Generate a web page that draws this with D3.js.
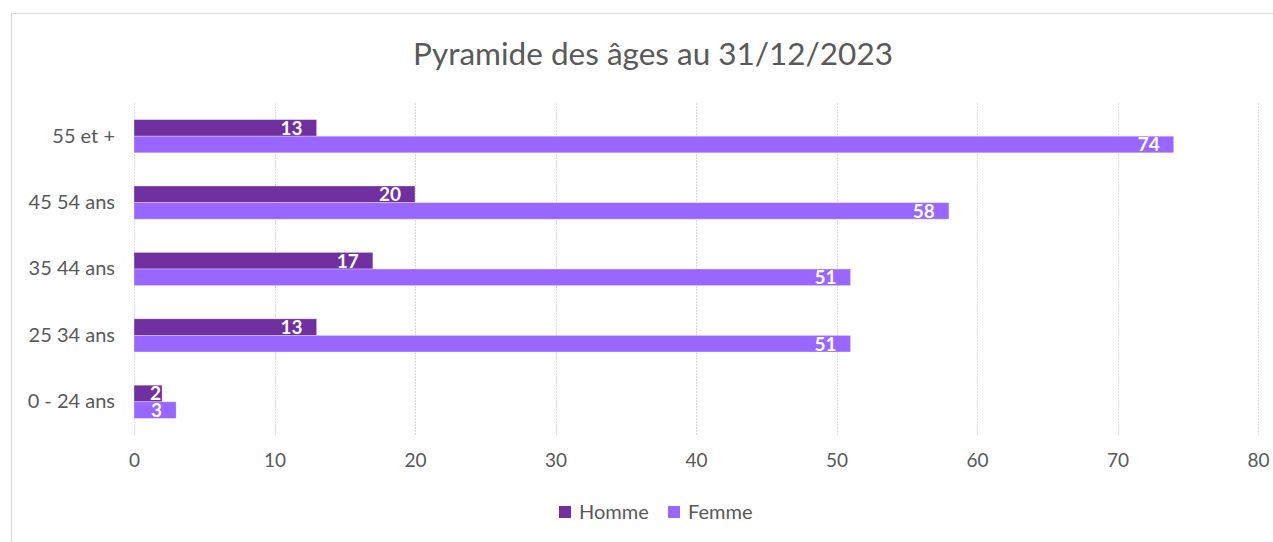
<!DOCTYPE html>
<html>
<head>
<meta charset="utf-8">
<script src="https://cdn.jsdelivr.net/npm/d3@7"></script>
<style>
  body { margin: 0; background: #fff; }
  svg { display: block; font-family: Lato, "Open Sans", sans-serif; }
</style>
</head>
<body>
<div id="chart"></div>
<script>
// Age pyramid data, top row first
const categories = ['55 et +', '45 54 ans', '35 44 ans', '25 34 ans', '0 - 24 ans'];
const series = ['Homme', 'Femme'];
const hommeValues = [13, 20, 17, 13, 2];
const femmeValues = [74, 58, 51, 51, 3];
const xTicks = [0, 10, 20, 30, 40, 50, 60, 70, 80];
const colors = { Homme: '#7030A0', Femme: '#9966FF' };

const width = 1273;
const height = 542;
const plot = { left: 134, right: 1258, top: 103, bottom: 435 };

const rows = categories.map((c, i) => ({ cat: c, Homme: hommeValues[i], Femme: femmeValues[i] }));

const svg = d3.select('#chart').append('svg')
    .attr('width', width)
    .attr('height', height);

// chart frame
svg.append('rect')
    .attr('x', 11.5).attr('y', 13.5)
    .attr('width', width).attr('height', height)
    .attr('fill', 'none')
    .attr('stroke', '#d9d9d9');

svg.append('text')
    .attr('x', 653).attr('y', 65)
    .attr('text-anchor', 'middle')
    .attr('font-size', 31.5)
    .attr('fill', '#595959')
    .text('Pyramide des âges au 31/12/2023');

const x = d3.scaleLinear().domain([0, 80]).range([plot.left, plot.right]);
const y = d3.scaleBand().domain(categories).range([plot.top, plot.bottom])
    .paddingInner(0.5).paddingOuter(0.25);
const ySub = d3.scaleBand().domain(series).range([0, y.bandwidth()]);

// vertical gridlines
svg.append('g')
    .selectAll('line')
    .data(xTicks)
    .join('line')
    .attr('x1', d => Math.round(x(d)) + 0.5)
    .attr('x2', d => Math.round(x(d)) + 0.5)
    .attr('y1', plot.top)
    .attr('y2', plot.bottom)
    .attr('stroke', '#d9d9d9')
    .attr('stroke-dasharray', '2,1');

// x axis labels
const xAxis = svg.append('g')
    .attr('transform', `translate(0,${plot.bottom})`)
    .call(d3.axisBottom(x).tickValues(xTicks).tickSize(0).tickPadding(19));
xAxis.select('.domain').remove();
xAxis.selectAll('text')
    .attr('font-size', 19)
    .attr('font-family', 'Lato, "Open Sans", sans-serif')
    .attr('fill', '#595959');

// category labels
const yAxis = svg.append('g')
    .attr('transform', `translate(${plot.left},0)`)
    .call(d3.axisLeft(y).tickSize(0).tickPadding(19));
yAxis.select('.domain').remove();
yAxis.selectAll('text')
    .attr('font-size', 20)
    .attr('font-family', 'Lato, "Open Sans", sans-serif')
    .attr('fill', '#595959');

// bars
const groups = svg.append('g')
    .selectAll('g')
    .data(rows)
    .join('g')
    .attr('transform', d => `translate(0,${y(d.cat)})`);

const bars = groups.selectAll('g')
    .data(d => series.map(s => ({ key: s, value: d[s] })))
    .join('g');

bars.append('rect')
    .attr('x', x(0))
    .attr('y', d => ySub(d.key))
    .attr('width', d => x(d.value) - x(0))
    .attr('height', ySub.bandwidth())
    .attr('fill', d => colors[d.key])
    .attr('stroke', '#fff')
    .attr('stroke-opacity', 0.4)
    .attr('stroke-width', 0.8);

// value labels, inside end
bars.append('text')
    .attr('y', d => ySub(d.key) + ySub.bandwidth() / 2)
    .attr('dy', '0.36em')
    .attr('text-anchor', 'end')
    .attr('font-size', 19)
    .attr('font-weight', 'bold')
    .attr('fill', '#fff')
    .text(d => d.value)
    .each(function(d) {
        const w = this.getComputedTextLength();
        const right = Math.max(x(d.value) - 14, x(0) + 16 + w);
        d3.select(this).attr('x', right);
    });

// legend
const legend = svg.append('g').attr('transform', 'translate(559,512)');
const legendPos = [0, 109];
series.forEach((s, i) => {
    const item = legend.append('g').attr('transform', `translate(${legendPos[i]},0)`);
    item.append('rect')
        .attr('x', 0).attr('y', -6)
        .attr('width', 12).attr('height', 12)
        .attr('fill', colors[s]);
    item.append('text')
        .attr('x', 20).attr('y', 0)
        .attr('dy', '0.36em')
        .attr('font-size', 20)
        .attr('fill', '#595959')
        .text(s);
});
</script>
</body>
</html>
